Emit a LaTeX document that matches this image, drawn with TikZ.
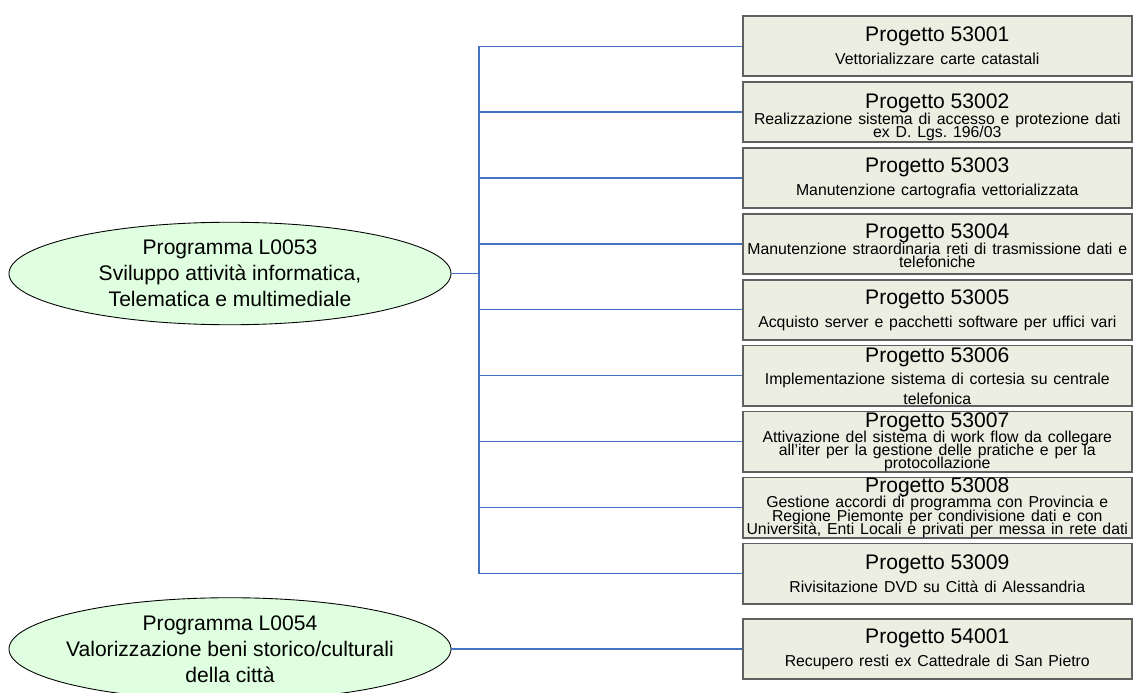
\documentclass[tikz,border=0pt]{standalone}
\usepackage{fontspec}
\setmainfont{Liberation Sans}
\usetikzlibrary{positioning,shapes.geometric}
\definecolor{verdino}{HTML}{E0FFE0}
\definecolor{beigeP}{HTML}{ECEEE2}
\definecolor{lineablu}{HTML}{4472C4}
\definecolor{bordoP}{HTML}{606060}
\newcommand{\tit}{\fontsize{12}{14}\selectfont}
\newcommand{\des}[1]{\fontsize{9}{#1}\selectfont\lineskiplimit=-10pt\relax}
\tikzset{
  progbox/.style={rectangle, draw=bordoP, line width=0.9pt, fill=beigeP, align=center,
                  text width=7.7cm, inner xsep=0.02cm, inner ysep=0pt,
                  minimum width=7.78cm, minimum height=1.21cm},
  programma/.style={ellipse, draw=black, line width=0.5pt, fill=verdino, align=center,
                    font=\fontsize{12}{14.7}\selectfont, minimum width=8.84cm, minimum height=2.05cm,
                    inner xsep=-0.3cm, inner ysep=-0.2cm},
  lin/.style={draw=lineablu, line width=0.6pt},
}
\begin{document}
\begin{tikzpicture}[node distance=0.078cm]
  \useasboundingbox (0,0) rectangle (22.66,-13.86);
  % progetti del programma L0053
  \node[progbox, anchor=north west] (p1) at (14.84,-0.30)
    {\tit Progetto 53001\\[2pt]\des{11}Vettorializzare carte catastali\par};
  \node[progbox, below=of p1] (p2)
    {\tit\rule{0pt}{14.2pt}Progetto 53002\\[2pt]\des{7.4}Realizzazione sistema di accesso e protezione dati\\ex D. Lgs.\ 196/03\par};
  \node[progbox, below=of p2] (p3)
    {\tit Progetto 53003\\[2pt]\des{11}Manutenzione cartografia vettorializzata\par};
  \node[progbox, below=of p3] (p4)
    {\tit\rule{0pt}{10.6pt}Progetto 53004\\[2pt]\des{7.4}Manutenzione straordinaria reti di trasmissione dati e\\telefoniche\par};
  \node[progbox, below=of p4] (p5)
    {\tit Progetto 53005\\[2pt]\des{11}Acquisto server e pacchetti software per uffici vari\par};
  \node[progbox, below=of p5] (p6)
    {\tit Progetto 53006\\[2pt]\des{11}Implementazione sistema di cortesia su centrale\\telefonica\par};
  \node[progbox, below=of p6] (p7)
    {\tit Progetto 53007\\[1.8pt]\des{7.2}Attivazione del sistema di work flow da collegare\\all'iter per la gestione delle pratiche e per la\\protocollazione\par};
  \node[progbox, below=of p7] (p8)
    {\tit Progetto 53008\\[1pt]\des{7.6}Gestione accordi di programma con Provincia e\\Regione Piemonte per condivisione dati e con\\Università, Enti Locali e privati per messa in rete dati\par};
  \node[progbox, below=of p8] (p9)
    {\tit Progetto 53009\\[2pt]\des{11}Rivisitazione DVD su Città di Alessandria\par};
  % programma L0054
  \node[progbox, below=0.26cm of p9] (p10)
    {\tit Progetto 54001\\[2pt]\des{11}Recupero resti ex Cattedrale di San Pietro\par};

  \node[programma] (l53) at (4.6,-5.47)
    {Programma L0053\\Sviluppo attività informatica,\\Telematica e multimediale};
  \node[programma] (l54) at (p10.west -| 4.6,0)
    {Programma L0054\\Valorizzazione beni storico/culturali\\della città};

  \coordinate (bus) at (9.58,-5.47);
  \draw[lin] (l53.east) -- (bus);
  \draw[lin] (bus |- p1.west) -- (bus |- p9.west);
  \draw[lin] (bus |- p1.west) -- (p1.west);
  \draw[lin] (bus |- p2.west) -- (p2.west);
  \draw[lin] (bus |- p3.west) -- (p3.west);
  \draw[lin] (bus |- p4.west) -- (p4.west);
  \draw[lin] (bus |- p5.west) -- (p5.west);
  \draw[lin] (bus |- p6.west) -- (p6.west);
  \draw[lin] (bus |- p7.west) -- (p7.west);
  \draw[lin] (bus |- p8.west) -- (p8.west);
  \draw[lin] (bus |- p9.west) -- (p9.west);
  \draw[lin] (l54.east) -- (p10.west);
\end{tikzpicture}
\end{document}
